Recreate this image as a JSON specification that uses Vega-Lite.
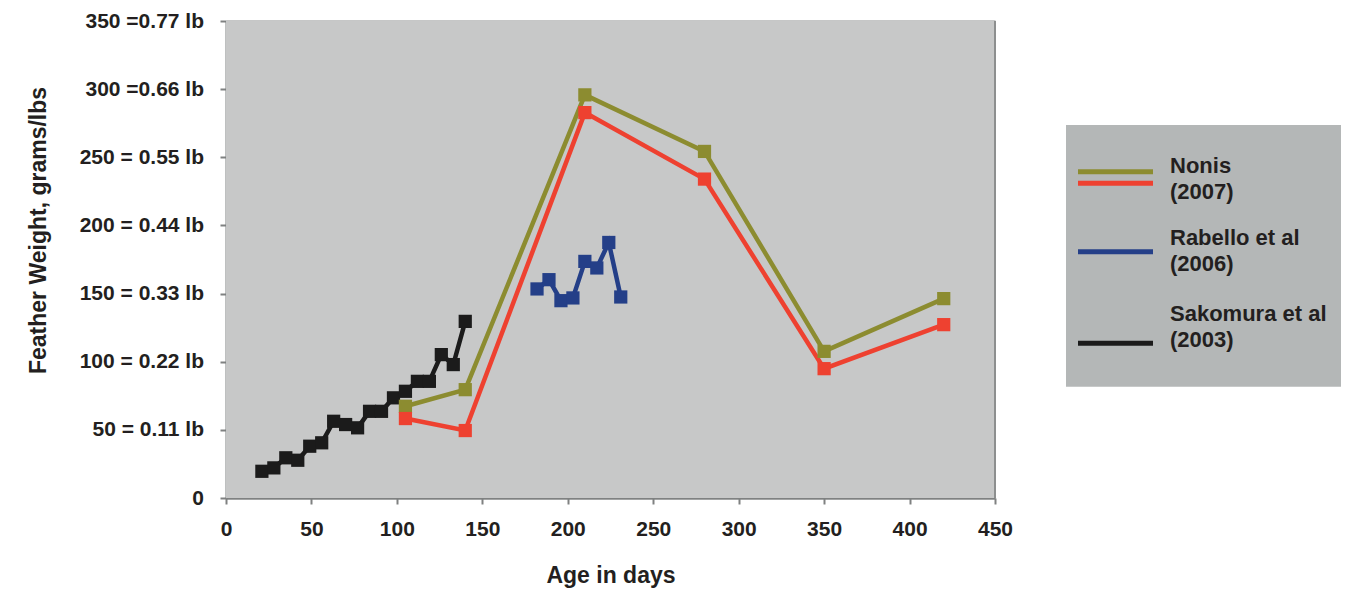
{
  "$schema": "https://vega.github.io/schema/vega-lite/v6.json",
  "background": "white",
  "padding": {"left": 27, "top": 10, "right": 5, "bottom": 5},
  "config": {
    "font": "Liberation Sans",
    "view": {"stroke": null},
    "concat": {"spacing": 53}
  },
  "datasets": {
    "weights": [
      {"series": "Sakomura et al (2003)", "day": 21, "weight": 19.6},
      {"series": "Sakomura et al (2003)", "day": 28, "weight": 22.1},
      {"series": "Sakomura et al (2003)", "day": 35, "weight": 29.5},
      {"series": "Sakomura et al (2003)", "day": 42, "weight": 27.7},
      {"series": "Sakomura et al (2003)", "day": 49, "weight": 38.0},
      {"series": "Sakomura et al (2003)", "day": 56, "weight": 40.5},
      {"series": "Sakomura et al (2003)", "day": 63, "weight": 56.3},
      {"series": "Sakomura et al (2003)", "day": 70, "weight": 53.9},
      {"series": "Sakomura et al (2003)", "day": 77, "weight": 51.5},
      {"series": "Sakomura et al (2003)", "day": 84, "weight": 63.6},
      {"series": "Sakomura et al (2003)", "day": 91, "weight": 63.6},
      {"series": "Sakomura et al (2003)", "day": 98, "weight": 73.5},
      {"series": "Sakomura et al (2003)", "day": 105, "weight": 78.3},
      {"series": "Sakomura et al (2003)", "day": 112, "weight": 85.6},
      {"series": "Sakomura et al (2003)", "day": 119, "weight": 85.6},
      {"series": "Sakomura et al (2003)", "day": 126, "weight": 105.2},
      {"series": "Sakomura et al (2003)", "day": 133, "weight": 97.9},
      {"series": "Sakomura et al (2003)", "day": 140, "weight": 129.6},
      {"series": "Rabello et al (2006)", "day": 182, "weight": 153.4},
      {"series": "Rabello et al (2006)", "day": 189, "weight": 160.2},
      {"series": "Rabello et al (2006)", "day": 196, "weight": 144.8},
      {"series": "Rabello et al (2006)", "day": 203, "weight": 146.8},
      {"series": "Rabello et al (2006)", "day": 210, "weight": 173.6},
      {"series": "Rabello et al (2006)", "day": 217, "weight": 168.8},
      {"series": "Rabello et al (2006)", "day": 224, "weight": 187.5},
      {"series": "Rabello et al (2006)", "day": 231, "weight": 147.5},
      {"series": "Nonis (2007) upper", "day": 105, "weight": 67.3},
      {"series": "Nonis (2007) upper", "day": 140, "weight": 79.5},
      {"series": "Nonis (2007) upper", "day": 210, "weight": 295.8},
      {"series": "Nonis (2007) upper", "day": 280, "weight": 254.3},
      {"series": "Nonis (2007) upper", "day": 350, "weight": 107.6},
      {"series": "Nonis (2007) upper", "day": 420, "weight": 146.3},
      {"series": "Nonis (2007) lower", "day": 105, "weight": 58.3},
      {"series": "Nonis (2007) lower", "day": 140, "weight": 49.5},
      {"series": "Nonis (2007) lower", "day": 210, "weight": 282.8},
      {"series": "Nonis (2007) lower", "day": 280, "weight": 234.0},
      {"series": "Nonis (2007) lower", "day": 350, "weight": 94.9},
      {"series": "Nonis (2007) lower", "day": 420, "weight": 127.2}
    ],
    "legendLines": [
      {"series": "Nonis (2007) upper", "x": 12, "x2": 87, "pos": 150.7},
      {"series": "Nonis (2007) lower", "x": 12, "x2": 87, "pos": 162.3},
      {"series": "Rabello et al (2006)", "x": 12, "x2": 87, "pos": 230.7},
      {"series": "Sakomura et al (2003)", "x": 12, "x2": 87, "pos": 322.3}
    ],
    "legendLabels": [
      {"label": "Nonis\n(2007)", "x": 104, "pos": 151.7},
      {"label": "Rabello et al\n(2006)", "x": 104, "pos": 224},
      {"label": "Sakomura et al\n(2003)", "x": 104, "pos": 300}
    ],
    "legendBox": [
      {"x": 0, "x2": 275, "top": 104, "bottom": 365.7}
    ]
  },
  "hconcat": [
    {
      "width": 769,
      "height": 477,
      "data": {"name": "weights"},
      "layer": [
        {
          "mark": {"type": "rect", "color": "#c7c8c8"},
          "data": {"values": [{"x0": 0, "x1": 450, "y0": 0, "y1": 350}]},
          "encoding": {
            "x": {"field": "x0", "type": "quantitative"},
            "x2": {"field": "x1"},
            "y": {"field": "y0", "type": "quantitative"},
            "y2": {"field": "y1"}
          }
        },
        {
          "mark": {"type": "line", "strokeWidth": 4.5, "point": {"shape": "square", "size": 175, "filled": true, "opacity": 1}},
          "encoding": {
            "x": {
              "field": "day", "type": "quantitative",
              "scale": {"domain": [0, 450], "nice": false},
              "axis": {
                "title": "Age in days",
                "values": [0, 50, 100, 150, 200, 250, 300, 350, 400, 450],
                "grid": false,
                "domainColor": "#7f8181", "domainWidth": 2,
                "tickColor": "#7f8181", "tickWidth": 2, "tickSize": 6,
                "labelFontSize": 21, "labelFontWeight": "bold", "labelColor": "#231f20",
                "labelPadding": 14, "labelFlush": false,
                "titleFontSize": 23, "titleFontWeight": "bold", "titleColor": "#231f20",
                "titlePadding": 25
              }
            },
            "y": {
              "field": "weight", "type": "quantitative",
              "scale": {"domain": [0, 350], "nice": false},
              "axis": {
                "title": "Feather Weight, grams/lbs",
                "values": [0, 50, 100, 150, 200, 250, 300, 350],
                "labelExpr": "datum.value == 0 ? '0' : datum.value == 350 ? '350 =0.77 lb' : datum.value == 300 ? '300 =0.66 lb' : datum.value + ' = ' + format(datum.value * 0.0022, '.2f') + ' lb'",
                "grid": true, "gridColor": "#8d8f8f", "gridWidth": 2,
                "domainColor": "#7f8181", "domainWidth": 2,
                "tickColor": "#7f8181", "tickWidth": 2, "tickSize": 6,
                "labelFontSize": 21, "labelFontWeight": "bold", "labelColor": "#231f20",
                "labelPadding": 16.5, "labelFlush": false,
                "titleFontSize": 23, "titleFontWeight": "bold", "titleColor": "#231f20",
                "titlePadding": 29,
                "titleY": 209
              }
            },
            "color": {
              "field": "series", "type": "nominal",
              "scale": {
                "domain": ["Nonis (2007) upper", "Nonis (2007) lower", "Rabello et al (2006)", "Sakomura et al (2003)"],
                "range": ["#8c8c30", "#ee4130", "#243f88", "#1b1b1b"]
              },
              "legend": null
            }
          }
        },
        {
          "mark": {"type": "rule", "color": "#8d8f8f", "strokeWidth": 2},
          "data": {"values": [{"edge": 450}]},
          "encoding": {"x": {"field": "edge", "type": "quantitative"}}
        }
      ]
    },
    {
      "width": 275,
      "height": 477,
      "layer": [
        {
          "data": {"name": "legendBox"},
          "mark": {"type": "rect", "color": "#b4b7b7"},
          "encoding": {
            "x": {"field": "x", "type": "quantitative", "scale": {"domain": [0, 275], "nice": false}, "axis": null},
            "x2": {"field": "x2"},
            "y": {"field": "top", "type": "quantitative", "scale": {"domain": [0, 477], "reverse": true, "nice": false}, "axis": null},
            "y2": {"field": "bottom"}
          }
        },
        {
          "data": {"name": "legendLines"},
          "mark": {"type": "rule", "strokeWidth": 5},
          "encoding": {
            "x": {"field": "x", "type": "quantitative", "axis": null},
            "x2": {"field": "x2"},
            "y": {"field": "pos", "type": "quantitative", "axis": null},
            "color": {
              "field": "series", "type": "nominal",
              "scale": {
                "domain": ["Nonis (2007) upper", "Nonis (2007) lower", "Rabello et al (2006)", "Sakomura et al (2003)"],
                "range": ["#8c8c30", "#ee4130", "#243f88", "#1b1b1b"]
              },
              "legend": null
            }
          }
        },
        {
          "data": {"name": "legendLabels"},
          "mark": {"type": "text", "align": "left", "baseline": "alphabetic", "lineBreak": "\n", "lineHeight": 26, "fontSize": 22, "fontWeight": "bold", "color": "#231f20"},
          "encoding": {
            "x": {"field": "x", "type": "quantitative", "axis": null},
            "y": {"field": "pos", "type": "quantitative", "axis": null},
            "text": {"field": "label"}
          }
        }
      ]
    }
  ]
}
